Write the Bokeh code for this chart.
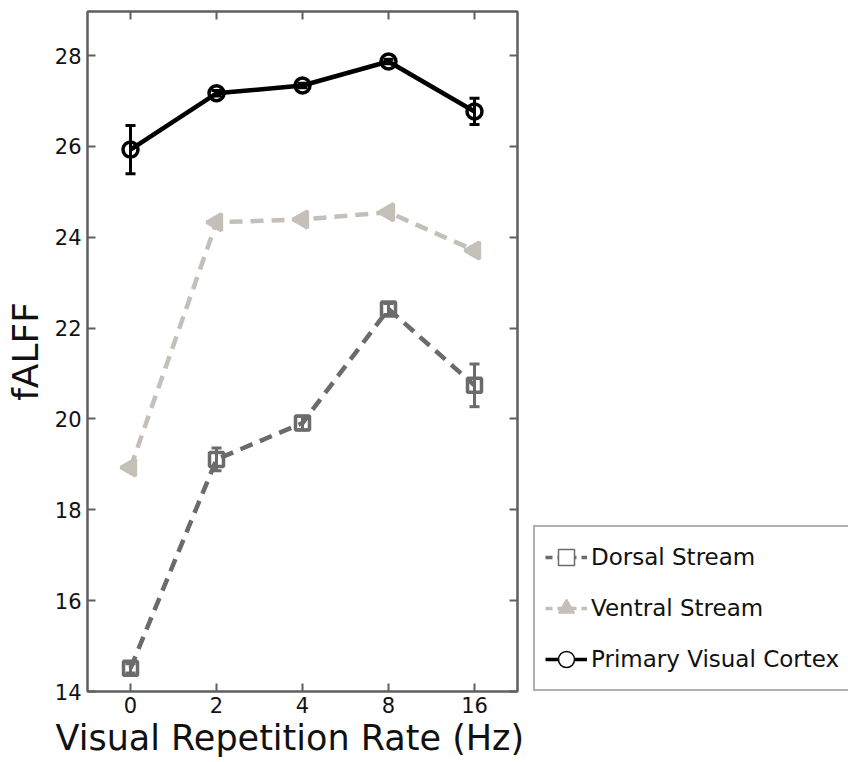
import numpy as np
from bokeh.plotting import figure
from bokeh.layouts import row
from bokeh.models import (ColumnDataSource, Whisker, TeeHead, LinearAxis, FixedTicker,
                          Legend, LegendItem, Range1d, Title)
from bokeh.embed import file_html
from bokeh.resources import INLINE

# ---- data ----
rates = ["0", "2", "4", "8", "16"]
xpos = [1, 2, 3, 4, 5]
dorsal = [14.51, 19.11, 19.91, 22.42, 20.74]
dorsal_err = [0.10, 0.25, 0.15, 0.12, 0.47]
ventral = [18.93, 24.33, 24.39, 24.55, 23.71]
ventral_err = [0.05, 0.05, 0.05, 0.05, 0.08]
primary = [25.93, 27.17, 27.34, 27.87, 26.77]
primary_err = [0.53, 0.06, 0.05, 0.05, 0.29]
yticks = [14, 16, 18, 20, 22, 24, 26, 28]
names = ["Dorsal Stream", "Ventral Stream", "Primary Visual Cortex"]
x_title = "Visual Repetition Rate (Hz)"
y_title = "fALFF"

FONT = "DejaVu Sans"
BOX = "#5f5f5f"
C_D = "#6b6b6b"
C_V = "#c4c0b9"
C_P = "#000000"

p = figure(width=531, height=762, output_backend="svg", toolbar_location=None,
           x_range=Range1d(0.5, 5.5), y_range=Range1d(14, 28.97),
           min_border_left=87, min_border_right=14, min_border_top=11, min_border_bottom=71)
p.xgrid.visible = False
p.ygrid.visible = False
p.outline_line_color = BOX
p.outline_line_width = 2
p.background_fill_color = "white"
p.border_fill_color = "white"

def style_axis(ax, labels=True):
    ax.axis_line_color = BOX
    ax.axis_line_width = 2
    ax.major_tick_line_color = BOX
    ax.major_tick_line_width = 2
    ax.major_tick_in = 8
    ax.major_tick_out = 0
    ax.minor_tick_line_color = None
    ax.major_label_text_font = FONT
    ax.major_label_text_font_size = "21px"
    ax.major_label_text_color = "#111111"
    if not labels:
        ax.major_label_text_font_size = "0px"
        ax.major_label_text_color = None
        ax.major_label_standoff = 0

p.xaxis.ticker = FixedTicker(ticks=xpos)
p.xaxis.major_label_overrides = {x: r for x, r in zip(xpos, rates)}
p.yaxis.ticker = FixedTicker(ticks=yticks)
style_axis(p.xaxis[0])
style_axis(p.yaxis[0])
p.xaxis.major_label_standoff = 5
p.yaxis.major_label_standoff = 6
p.yaxis.axis_label = y_title
p.yaxis.axis_label_text_font = FONT
p.yaxis.axis_label_text_font_style = "normal"
p.yaxis.axis_label_text_color = "#111111"
p.yaxis.axis_label_text_font_size = "36px"
p.yaxis.axis_label_standoff = 6

xt = Title(text=x_title, align="left", offset=-32, text_font=FONT, text_font_size="35px",
           text_font_style="normal", text_color="#111111", standoff=0)
p.add_layout(xt, "below")

top = LinearAxis(ticker=FixedTicker(ticks=xpos))
style_axis(top, labels=False)
p.add_layout(top, "above")
right = LinearAxis(ticker=FixedTicker(ticks=yticks))
style_axis(right, labels=False)
p.add_layout(right, "right")

STY = {
    "Dorsal Stream": dict(color=C_D, marker="square", dash="13 8", size=14, fill=None, angle=0.0),
    "Ventral Stream": dict(color=C_V, marker="triangle", dash="13 8", size=17, fill=C_V, angle=np.pi / 2),
    "Primary Visual Cortex": dict(color=C_P, marker="circle", dash="solid", size=15, fill=None, angle=0.0),
}

def series(vals, errs, s):
    src = ColumnDataSource(dict(x=xpos, y=vals, lo=[v - e for v, e in zip(vals, errs)],
                                hi=[v + e for v, e in zip(vals, errs)]))
    p.line("x", "y", source=src, line_color=s["color"], line_width=4.5, line_dash=s["dash"])
    w = Whisker(source=src, base="x", upper="hi", lower="lo", line_color=s["color"], line_width=3,
                upper_head=TeeHead(size=10, line_color=s["color"], line_width=3),
                lower_head=TeeHead(size=10, line_color=s["color"], line_width=3))
    p.add_layout(w)
    p.scatter("x", "y", source=src, marker=s["marker"], size=s["size"], line_color=s["color"],
              line_width=3.5, fill_color=s["fill"], angle=s["angle"])
    return src

srcs = [series(dorsal, dorsal_err, STY[names[0]]),
        series(ventral, ventral_err, STY[names[1]]),
        series(primary, primary_err, STY[names[2]])]

# ---- legend panel (its sample glyphs reuse the series data, out of view) ----
q = figure(width=317, height=762, output_backend="svg", toolbar_location=None,
           x_range=Range1d(100, 101), y_range=Range1d(100, 101),
           x_axis_location=None, y_axis_location=None,
           min_border_left=0, min_border_right=0, min_border_top=0, min_border_bottom=0)
q.xgrid.visible = False
q.ygrid.visible = False
q.outline_line_color = None
q.background_fill_color = "white"
q.border_fill_color = "white"

items = []
for nm, src in zip(names, srcs):
    s = STY[nm]
    ln = q.line("x", "y", source=src, line_color=s["color"], line_width=3.5,
                line_dash="solid" if s["dash"] == "solid" else "7 5")
    sc = q.scatter("x", "y", source=src, marker=s["marker"], size=10, line_color=s["color"],
                   line_width=1.5, fill_color="white" if s["fill"] is None else s["fill"], angle=s["angle"])
    items.append(LegendItem(label=nm, renderers=[ln, sc]))

legend = Legend(items=items, location=(2, 0))
legend.label_text_font = FONT
legend.label_text_font_size = "23px"
legend.label_text_color = "#111111"
legend.glyph_width = 42
legend.glyph_height = 40
legend.label_height = 40
legend.label_standoff = 4
legend.spacing = 11
legend.padding = 10
legend.margin = 0
legend.border_line_color = BOX
legend.border_line_width = 2
legend.background_fill_alpha = 1
q.add_layout(legend, "center")

open("out.html", "w").write(file_html(row(p, q), INLINE))
